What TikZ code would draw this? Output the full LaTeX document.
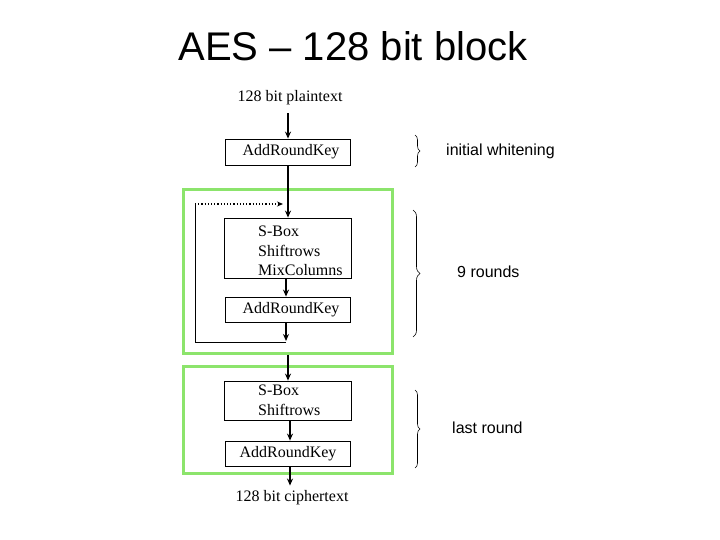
\documentclass[tikz,border=0pt]{standalone}
\usepackage{fontspec}
\setmainfont{Liberation Serif}
\newfontfamily\labfont{Liberation Sans}
\usetikzlibrary{arrows.meta,decorations.pathreplacing}
\definecolor{grn}{RGB}{140,228,108}
\begin{document}
\begin{tikzpicture}[x=1pt,y=-1pt,
  box/.style={draw,line width=0.8pt,minimum width=125pt,inner sep=0pt,font=\fontsize{16}{19.5}\selectfont},
  txt/.style={font=\fontsize{16}{19.5}\selectfont,inner sep=0pt},
  lab/.style={font=\labfont\fontsize{16}{18}\selectfont,inner sep=0pt},
  arr/.style={line width=1.7pt,-{Stealth[length=7pt,width=6pt]}},
  grnbox/.style={draw=grn,line width=3pt,minimum width=209pt,inner sep=0pt},
  brc/.style={decorate,decoration={brace,amplitude=5pt},line width=0.6pt}]
\useasboundingbox (0,0) rectangle (720,540);
\node[font=\labfont\fontsize{40}{44}\selectfont,inner sep=0pt] (title) at (353,46) {AES – 128 bit block};
\node[txt] (pt) at (290,98) {128 bit plaintext};
\node[box,minimum height=26pt] (ark1) at (288,152) {\hspace*{6pt}AddRoundKey};
\node[grnbox,minimum height=163pt] (g1) at (288,271.5) {};
\node[box,minimum height=60pt,minimum width=127pt] (sb1) at (288,248) {};
\node[txt,anchor=west,align=left] (sbt1) at (258,251) {S-Box\\Shiftrows\\MixColumns};
\node[box,minimum height=25pt] (ark2) at (288,309.5) {\hspace*{6pt}AddRoundKey};
\node[grnbox,minimum height=107pt] (g2) at (288,419.5) {};
\node[box,minimum height=39pt,minimum width=127pt] (sb2) at (288,400.5) {};
\node[txt,anchor=west,align=left] (sbt2) at (258,400.5) {S-Box\\Shiftrows};
\node[box,minimum height=25pt] (ark3) at (288,453.5) {AddRoundKey};
\node[txt] (ct) at (292,498) {128 bit ciphertext};
% loop coordinates
\coordinate (lb) at (286,342);
\coordinate (lc) at (195,342);
\coordinate (lt) at (195,204);
\coordinate (le) at (283,204);
% connectors
\draw[arr] ([yshift=-8pt]pt.south -| ark1.north) -- (ark1.north);
\draw[arr] (ark1.south) -- (ark1.south |- sb1.north);
\draw[arr] ([xshift=-2pt]sb1.south) -- ([xshift=-2pt]sb1.south |- ark2.north);
\draw[arr] ([xshift=-2pt]ark2.south) -- ([yshift=1pt]lb);
\draw[line width=0.8pt] (lb) -- (lc) -- (lt);
\draw[line width=1.2pt,dotted,-{Stealth[length=6pt,width=5pt]}] (lt) -- (le);
\draw[arr] (g1.south) -- (g1.south |- sb2.north);
\draw[arr] ([xshift=2pt]sb2.south) -- ([xshift=2pt]sb2.south |- ark3.north);
\draw[arr] ([xshift=2pt]ark3.south) -- ([xshift=2pt,yshift=5pt]ct.north -| ark3.south);
% braces
\draw[brc] (415,135) -- (415,167);
\node[lab,anchor=west] (l1) at (446,151) {initial whitening};
\draw[brc,decoration={amplitude=7pt}] (413,210) -- (413,337);
\node[lab,anchor=west] (l2) at (457,272) {9 rounds};
\draw[brc] (415,390) -- (415,468);
\node[lab,anchor=west] (l3) at (452,428) {last round};
\end{tikzpicture}
\end{document}
